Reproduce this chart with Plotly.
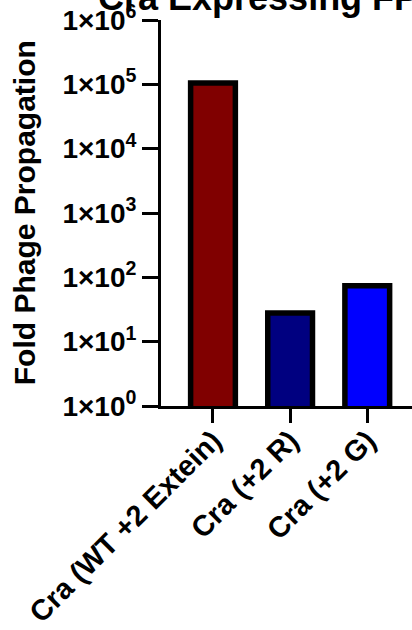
import plotly.graph_objects as go

# Data
categories = ["Cra (WT +2 Extein)", "Cra (+2 R)", "Cra (+2 G)"]
fold_propagation = [105000, 28, 74]
bar_colors = ["#800000", "#000080", "#0000FF"]

tick_vals = [1, 10, 100, 1000, 10000, 100000, 1000000]
tick_text = ["1×10<sup>%d</sup>" % i for i in range(7)]

FONT = "Liberation Sans, Arial, Helvetica, sans-serif"

fig = go.Figure(
    go.Bar(
        x=categories,
        y=fold_propagation,
        marker=dict(color=bar_colors, line=dict(color="black", width=5.5)),
        width=0.58,
    )
)

fig.update_layout(
    width=412,
    height=630,
    margin=dict(l=161, r=0, t=20, b=224),
    paper_bgcolor="white",
    plot_bgcolor="white",
    showlegend=False,
    font=dict(family=FONT, color="black", size=28, weight="bold"),
    annotations=[
        dict(
            text="Cra Expressing FP",
            xref="paper", yref="paper",
            x=-0.259, y=1.0,
            xanchor="left", yanchor="bottom",
            showarrow=False,
            font=dict(size=36, family=FONT, weight="bold"),
        ),
        dict(
            text="Fold Phage Propagation",
            xref="paper", yref="paper",
            x=-0.545, y=0.5,
            xanchor="center", yanchor="middle",
            textangle=-90,
            showarrow=False,
            font=dict(size=30, family=FONT, weight="bold"),
        ),
    ],
)

fig.update_xaxes(
    range=[-0.674, 2.58],
    automargin=False,
    showline=True, linecolor="black", linewidth=3,
    ticks="outside", ticklen=14, tickwidth=3, tickcolor="black",
    tickangle=-45,
    ticklabelstandoff=-11,
    tickfont=dict(size=29, family=FONT, weight="bold"),
    showgrid=False, zeroline=False,
)

fig.update_yaxes(
    type="log",
    range=[0, 6],
    automargin=False,
    tickvals=tick_vals,
    ticktext=tick_text,
    showline=True, linecolor="black", linewidth=3,
    ticks="outside", ticklen=16, tickwidth=3, tickcolor="black",
    tickfont=dict(size=28, family=FONT, weight="bold"),
    showgrid=False, zeroline=False,
)

fig.write_html("out.html")
